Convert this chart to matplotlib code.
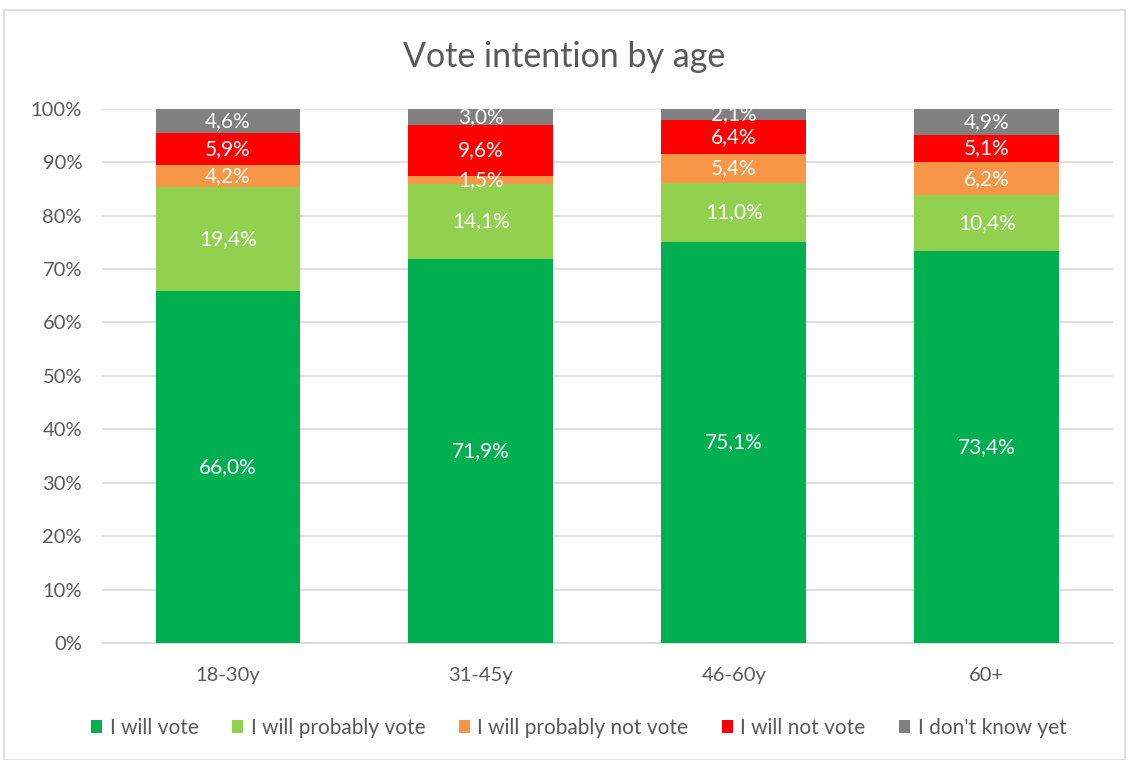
import numpy as np
import matplotlib.pyplot as plt
from matplotlib.patches import Rectangle
from matplotlib.ticker import PercentFormatter

plt.rcParams['font.family'] = ['Lato', 'DejaVu Sans']

# Data
ages = ['18-30y', '31-45y', '46-60y', '60+']
series = ['I will vote', 'I will probably vote', 'I will probably not vote',
          'I will not vote', "I don't know yet"]
will_vote = [66.0, 71.9, 75.1, 73.4]
probably_vote = [19.4, 14.1, 11.0, 10.4]
probably_not = [4.2, 1.5, 5.4, 6.2]
will_not = [5.9, 9.6, 6.4, 5.1]
dont_know = [4.6, 3.0, 2.1, 4.9]
colors = ['#00B050', '#92D050', '#F79646', '#FF0000', '#808080']

values = np.array([will_vote, probably_vote, probably_not, will_not, dont_know])
shares = values / values.sum(axis=0)  # 100% stacked

fig = plt.figure(figsize=(11.28, 7.6), dpi=100)
ax = fig.add_axes([0.090, 0.154, 0.897, 0.703])

# outer chart border
fig.patches.append(Rectangle((4 / 1128, 0), 1121 / 1128, 750 / 760, transform=fig.transFigure,
                             fill=False, edgecolor='#D9D9D9', linewidth=1.2))

x = np.arange(len(ages))
bottom = np.zeros(len(ages))
for k in range(len(series)):
    bars = ax.bar(x, shares[k], 0.573, bottom=bottom, color=colors[k], label=series[k], zorder=3)
    for i, b in enumerate(bars):
        ax.text(b.get_x() + b.get_width() / 2, bottom[i] + shares[k][i] / 2,
                f'{values[k][i]:.1f}%'.replace('.', ','), ha='center', va='center',
                color='white', fontsize=15, zorder=4)
    bottom += shares[k]

ax.set_xlim(-0.5, len(ages) - 0.5)
ax.set_ylim(0, 1)
ax.set_yticks(np.arange(0, 1.01, 0.1))
ax.yaxis.set_major_formatter(PercentFormatter(1.0, decimals=0))
ax.set_xticks(x)
ax.set_xticklabels(ages)
ax.tick_params(axis='both', length=0, labelsize=14.5, colors='#595959')
ax.tick_params(axis='y', pad=14)
ax.tick_params(axis='x', pad=17)
ax.grid(axis='y', color='#D9D9D9', linewidth=1.2, zorder=0)
for s in ['left', 'right', 'top']:
    ax.spines[s].set_visible(False)
ax.spines['bottom'].set_color('#D9D9D9')
ax.spines['bottom'].set_linewidth(1.2)

fig.text(0.5, 0.925, 'Vote intention by age', ha='center', va='center', fontsize=24.5, color='#595959')

leg = fig.legend(loc='center', bbox_to_anchor=(0.513, 0.042), ncol=5, frameon=False,
                 fontsize=15, handlelength=0.55, handleheight=0.55, handletextpad=0.35,
                 columnspacing=1.6, labelcolor='#595959')

fig.savefig('out.png', dpi=100)
